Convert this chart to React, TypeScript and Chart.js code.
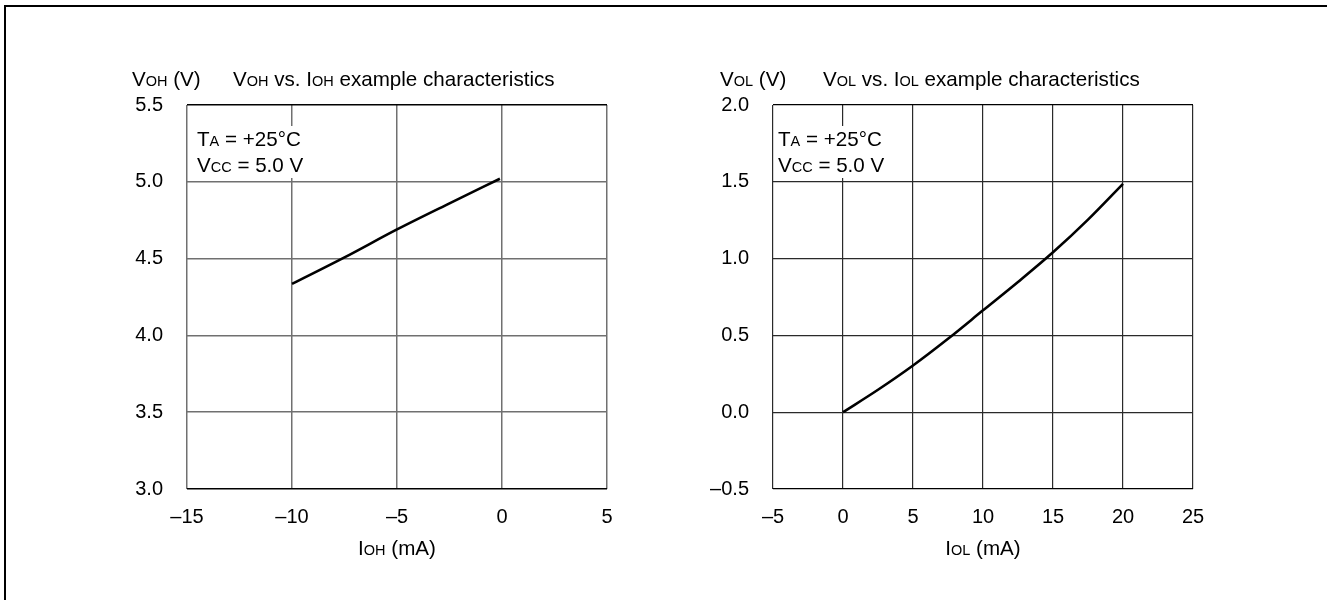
import React, { useEffect, useRef } from "react";
import { Chart, registerables } from "chart.js";

Chart.register(...registerables);

// ---- Data ----
const iohValues = [-10, -7.5, -5, -2.5, -0.1];
const vohValues = [4.335, 4.508, 4.69, 4.86, 5.02];

const iolValues = [0, 2.5, 5, 7.5, 10, 12.5, 15, 17.5, 20];
const volValues = [0, 0.146, 0.304, 0.478, 0.663, 0.848, 1.041, 1.254, 1.487];

const leftXRange = [-15, 5];
const leftYRange = [3.0, 5.5];
const rightXRange = [-5, 25];
const rightYRange = [-0.5, 2.0];

const FONT = "'Liberation Sans', Arial, Helvetica, sans-serif";
const TICK = 20;
const BIG = 20.6;
const SMALL = 14.5;

type Part = [string, boolean];

function drawRich(ctx: CanvasRenderingContext2D, parts: Part[], x: number, cy: number, align: "left" | "center", bg = false) {
  let w = 0;
  for (const [t, s] of parts) {
    ctx.font = `${s ? SMALL : BIG}px ${FONT}`;
    w += ctx.measureText(t).width;
  }
  let cx = align === "center" ? x - w / 2 : x;
  const baseline = cy + BIG * 0.36;
  if (bg) {
    ctx.fillStyle = "#fff";
    ctx.fillRect(cx - 2, cy - 13, w + 4, 26);
  }
  ctx.fillStyle = "#000";
  ctx.textBaseline = "alphabetic";
  ctx.textAlign = "left";
  for (const [t, s] of parts) {
    ctx.font = `${s ? SMALL : BIG}px ${FONT}`;
    ctx.fillText(t, cx, baseline);
    cx += ctx.measureText(t).width;
  }
}

type Labels = {
  yTitle: Part[];
  title: Part[];
  xTitle: Part[];
  ann1: Part[];
  ann2: Part[];
  yTitleDx: number;
  titleDx: number;
  annDx: number;
};

function makeTextPlugin(l: Labels) {
  return {
    id: "richText",
    afterDraw(chart: any) {
      const ctx = chart.ctx as CanvasRenderingContext2D;
      const a = chart.chartArea;
      ctx.save();
      drawRich(ctx, l.yTitle, a.left + l.yTitleDx, 79, "left");
      drawRich(ctx, l.title, a.left + l.titleDx, 79, "left");
      drawRich(ctx, l.xTitle, (a.left + a.right) / 2, 548, "center");
      drawRich(ctx, l.ann1, a.left + l.annDx, 139, "left", true);
      drawRich(ctx, l.ann2, a.left + l.annDx, 165, "left", true);
      ctx.restore();
    },
  };
}

const dash = (v: number) => (v < 0 ? "\u2013" + Math.abs(v) : String(v));

function buildConfig(
  xs: number[],
  ys: number[],
  xr: number[],
  yr: number[],
  area: { left: number; right: number },
  gridColor: string,
  edgeColor: string,
  gridWidth: number,
  labels: Labels
): any {
  const tickFont = { family: FONT, size: TICK };
  return {
    type: "scatter",
    data: {
      datasets: [
        {
          data: xs.map((x, i) => ({ x, y: ys[i] })),
          showLine: true,
          borderColor: "#000",
          borderWidth: 2.6,
          pointRadius: 0,
          cubicInterpolationMode: "monotone",
          fill: false,
        },
      ],
    },
    options: {
      animation: false,
      responsive: false,
      layout: { padding: { left: 0, right: 1327 - area.right, top: 105, bottom: 0 } },
      plugins: { legend: { display: false }, tooltip: { enabled: false } },
      scales: {
        x: {
          type: "linear",
          min: xr[0],
          max: xr[1],
          afterFit: (s: any) => {
            s.height = 600 - 489;
          },
          ticks: { stepSize: 5, font: tickFont, color: "#000", padding: 16, callback: (v: number) => dash(v), maxRotation: 0 },
          grid: { drawTicks: false, color: gridColor, lineWidth: gridWidth },
          border: { display: false },
        },
        y: {
          type: "linear",
          min: yr[0],
          max: yr[1],
          afterFit: (s: any) => {
            s.width = area.left;
          },
          ticks: {
            stepSize: 0.5,
            font: tickFont,
            color: "#000",
            padding: 24,
            callback: (v: number) => (v < 0 ? "\u2013" + Math.abs(v).toFixed(1) : v.toFixed(1)),
          },
          grid: {
            drawTicks: false,
            color: (c: any) =>
              c.index === 0 || Math.abs((c.tick?.value ?? 0) - yr[1]) < 1e-6 ? edgeColor : gridColor,
            lineWidth: gridWidth,
          },
          border: { display: false },
        },
      },
    },
    plugins: [makeTextPlugin(labels)],
  };
}

function ChartLayer({ config }: { config: any }) {
  const ref = useRef<HTMLCanvasElement | null>(null);
  useEffect(() => {
    if (!ref.current) return;
    const ch = new Chart(ref.current, config);
    return () => ch.destroy();
  }, [config]);
  return (
    <canvas
      ref={ref}
      width={1327}
      height={600}
      style={{ position: "absolute", left: 0, top: 0, width: 1327, height: 600 }}
    />
  );
}

const leftConfig = buildConfig(
  iohValues,
  vohValues,
  leftXRange,
  leftYRange,
  { left: 187, right: 607 },
  "#707070",
  "#000",
  1.5,
  {
    yTitle: [["V", false], ["OH", true], [" (V)", false]],
    title: [["V", false], ["OH", true], [" vs. I", false], ["OH", true], [" example characteristics", false]],
    xTitle: [["I", false], ["OH", true], [" (mA)", false]],
    ann1: [["T", false], ["A", true], [" = +25\u00b0C", false]],
    ann2: [["V", false], ["CC", true], [" = 5.0 V", false]],
    yTitleDx: -55,
    titleDx: 46,
    annDx: 10,
  }
);

const rightConfig = buildConfig(
  iolValues,
  volValues,
  rightXRange,
  rightYRange,
  { left: 773, right: 1193 },
  "#2a2a2a",
  "#000",
  1.2,
  {
    yTitle: [["V", false], ["OL", true], [" (V)", false]],
    title: [["V", false], ["OL", true], [" vs. I", false], ["OL", true], [" example characteristics", false]],
    xTitle: [["I", false], ["OL", true], [" (mA)", false]],
    ann1: [["T", false], ["A", true], [" = +25\u00b0C", false]],
    ann2: [["V", false], ["CC", true], [" = 5.0 V", false]],
    yTitleDx: -53,
    titleDx: 50,
    annDx: 5,
  }
);

export default function App() {
  return (
    <div style={{ position: "fixed", left: 0, top: 0, width: 1327, height: 600, overflow: "hidden", background: "#fff" }}>
      <div
        style={{
          position: "absolute",
          left: 4,
          top: 5,
          width: 1400,
          height: 700,
          borderTop: "2px solid #000",
          borderLeft: "2px solid #000",
        }}
      />
      <ChartLayer config={leftConfig} />
      <ChartLayer config={rightConfig} />
    </div>
  );
}
